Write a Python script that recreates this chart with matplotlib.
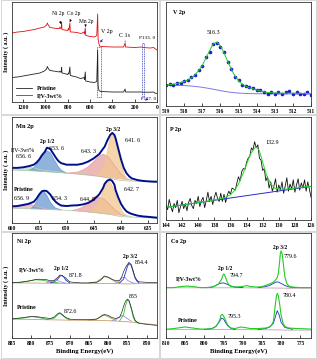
import matplotlib.pyplot as plt
from matplotlib.patches import Rectangle

# ----------------------------- survey spectra ------------------------------ #
surveyE = [1300, 1250, 1200, 1150, 1100, 1050, 1010, 990, 983, 975, 960, 930, 900, 875, 870, 866,
           858, 855, 852, 830, 800, 795, 790, 781, 777, 760, 720, 700, 680, 654, 650, 643, 639,
           600, 560, 540, 532, 528, 520, 515, 500, 400, 300, 286, 282, 200, 135, 130, 60, 30, 20, 0]
surveyPV = [0.69, 0.70, 0.705, 0.715, 0.725, 0.74, 0.75, 0.77, 0.79, 0.77, 0.745, 0.74, 0.735, 0.735,
            0.75, 0.735, 0.74, 0.80, 0.725, 0.72, 0.715, 0.735, 0.72, 0.79, 0.70, 0.70, 0.695, 0.69,
            0.685, 0.70, 0.68, 0.74, 0.665, 0.655, 0.65, 0.665, 0.88, 0.63, 0.58, 0.56, 0.555, 0.55,
            0.55, 0.59, 0.55, 0.545, 0.55, 0.545, 0.54, 0.545, 0.535, 0.52]
surveyPristine = [0.245, 0.25, 0.26, 0.27, 0.28, 0.29, 0.31, 0.33, 0.355, 0.335, 0.315, 0.31, 0.305,
                  0.30, 0.31, 0.30, 0.30, 0.345, 0.29, 0.285, 0.275, 0.29, 0.28, 0.35, 0.265, 0.26,
                  0.25, 0.24, 0.235, 0.245, 0.225, 0.30, 0.21, 0.20, 0.195, 0.205, 0.52, 0.16, 0.115,
                  0.11, 0.105, 0.10, 0.10, 0.13, 0.10, 0.10, 0.10, 0.098, 0.098, 0.10, 0.09, 0.085]

# --------------------------------- V 2p ------------------------------------ #
vE = [519.0, 518.8, 518.6, 518.4, 518.2, 518.0, 517.8, 517.6, 517.4, 517.2, 517.0, 516.8, 516.6,
      516.4, 516.2, 516.0, 515.8, 515.6, 515.4, 515.2, 515.0, 514.8, 514.6, 514.4, 514.2, 514.0,
      513.8, 513.6, 513.4, 513.2, 513.0, 512.8, 512.6, 512.4, 512.2, 512.0, 511.8, 511.6, 511.4,
      511.2, 511.0]
vData = [0.20, 0.21, 0.20, 0.22, 0.22, 0.24, 0.25, 0.28, 0.30, 0.35, 0.38, 0.47, 0.52, 0.60, 0.61,
         0.57, 0.52, 0.42, 0.36, 0.28, 0.25, 0.20, 0.19, 0.18, 0.17, 0.15, 0.15, 0.13, 0.12, 0.13,
         0.12, 0.13, 0.12, 0.13, 0.14, 0.12, 0.13, 0.12, 0.12, 0.13, 0.11]
vFit = [0.20, 0.205, 0.21, 0.215, 0.225, 0.235, 0.25, 0.27, 0.30, 0.34, 0.39, 0.46, 0.53, 0.595,
        0.615, 0.58, 0.51, 0.43, 0.355, 0.29, 0.245, 0.21, 0.19, 0.175, 0.165, 0.155, 0.145, 0.137,
        0.13, 0.127, 0.125, 0.124, 0.123, 0.123, 0.123, 0.123, 0.122, 0.122, 0.121, 0.12, 0.12]
vBgE = [519, 518, 517.5, 517, 516.5, 516, 515.5, 515, 514.5, 514, 511]
vBg = [0.20, 0.197, 0.19, 0.18, 0.165, 0.148, 0.133, 0.124, 0.12, 0.118, 0.115]

# --------------------------------- Mn 2p ----------------------------------- #
mnE = [660, 659, 658, 657, 656, 655.5, 655, 654.5, 654, 653.6, 653, 652.5, 652, 651.5, 651, 650,
       649, 648, 647, 646, 645, 644, 643.3, 643, 642.5, 642, 641.6, 641.2, 641, 640.5, 640, 639.5,
       639, 638.5, 638, 637, 636, 635, 634, 633.4]
mnPV = [0.52, 0.52, 0.525, 0.535, 0.55, 0.57, 0.60, 0.64, 0.67, 0.71, 0.70, 0.66, 0.62, 0.585,
        0.565, 0.55, 0.55, 0.55, 0.56, 0.58, 0.61, 0.65, 0.70, 0.72, 0.78, 0.83, 0.85, 0.83, 0.80,
        0.70, 0.60, 0.52, 0.47, 0.44, 0.42, 0.405, 0.397, 0.393, 0.39, 0.39]
mnPVBgE = [660, 655, 650, 645, 642, 640, 633.4]
mnPVBg = [0.50, 0.49, 0.47, 0.45, 0.42, 0.40, 0.385]
mnPVSatE = [660, 658, 657, 656.6, 656, 655, 654, 652, 650]
mnPVSat = [0.50, 0.51, 0.52, 0.525, 0.52, 0.505, 0.495, 0.485, 0.47]
mnPV12E = [657, 656, 655, 654.5, 654, 653.6, 653, 652.5, 652, 651.5, 651, 650]
mnPV12 = [0.493, 0.52, 0.585, 0.635, 0.67, 0.68, 0.665, 0.62, 0.575, 0.53, 0.50, 0.47]
mnPVPinkE = [650, 648, 647, 646, 645, 644, 643.3, 642.5, 642, 641, 640, 639, 638]
mnPVPink = [0.47, 0.48, 0.50, 0.53, 0.58, 0.63, 0.65, 0.63, 0.60, 0.53, 0.46, 0.42, 0.40]
mnPV32E = [645, 644, 643, 642.5, 642, 641.6, 641.2, 641, 640.5, 640, 639.5, 639, 638]
mnPV32 = [0.45, 0.47, 0.55, 0.68, 0.80, 0.84, 0.80, 0.76, 0.65, 0.55, 0.47, 0.42, 0.40]

mnPristine = [0.157, 0.16, 0.17, 0.18, 0.20, 0.23, 0.27, 0.30, 0.305, 0.30, 0.27, 0.23, 0.20,
              0.18, 0.165, 0.16, 0.165, 0.167, 0.175, 0.19, 0.22, 0.27, 0.33, 0.37, 0.40, 0.41,
              0.395, 0.36, 0.31, 0.24, 0.18, 0.14, 0.11, 0.095, 0.085, 0.07, 0.062, 0.058, 0.053,
              0.05]
mnPrBgE = [660, 655, 650, 645, 642, 640, 633.4]
mnPrBg = [0.14, 0.13, 0.12, 0.10, 0.08, 0.06, 0.045]
mnPrSatE = [660, 658, 657, 656.5, 656, 655, 654, 653, 651]
mnPrSat = [0.14, 0.16, 0.175, 0.175, 0.165, 0.15, 0.135, 0.128, 0.124]
mnPr12E = [656.5, 656, 655.5, 655, 654.6, 654.3, 654, 653.5, 653, 652.5, 652, 651]
mnPr12 = [0.135, 0.16, 0.20, 0.25, 0.29, 0.30, 0.29, 0.25, 0.20, 0.165, 0.14, 0.125]
mnPrPinkE = [649, 648, 647, 646, 645, 644.8, 644, 643, 642, 641, 640, 639]
mnPrPink = [0.118, 0.13, 0.15, 0.19, 0.24, 0.25, 0.245, 0.22, 0.17, 0.12, 0.08, 0.065]
mnPr32E = [646, 645, 644, 643.5, 643, 642.7, 642.3, 642, 641.5, 641, 640.5, 640, 639.5, 639, 638]
mnPr32 = [0.10, 0.13, 0.20, 0.28, 0.36, 0.395, 0.40, 0.385, 0.34, 0.27, 0.20, 0.13, 0.09, 0.07,
          0.06]

# ---------------------------------- P 2p ----------------------------------- #
pE = [144.0 - 0.2 * i for i in range(91)]
pData = [0.15, 0.10, 0.20, 0.13, 0.08, 0.16, 0.12, 0.19, 0.07, 0.13, 0.18, 0.11, 0.16, 0.09, 0.17,
         0.21, 0.14, 0.11, 0.19, 0.16, 0.23, 0.13, 0.19, 0.22, 0.12, 0.19, 0.27, 0.18, 0.23, 0.15,
         0.22, 0.27, 0.21, 0.18, 0.26, 0.18, 0.25, 0.17, 0.24, 0.28, 0.25, 0.31, 0.30, 0.29, 0.36,
         0.42, 0.38, 0.47, 0.50, 0.49, 0.56, 0.60, 0.62, 0.70, 0.68, 0.76, 0.70, 0.73, 0.60, 0.58,
         0.48, 0.50, 0.38, 0.42, 0.31, 0.37, 0.28, 0.33, 0.40, 0.27, 0.34, 0.29, 0.37, 0.26, 0.33,
         0.41, 0.28, 0.35, 0.30, 0.39, 0.27, 0.34, 0.40, 0.29, 0.36, 0.31, 0.39, 0.28, 0.37, 0.30,
         0.22]
pFitE = [144, 142, 140, 138, 137, 136.5, 136, 135.5, 135, 134.5, 134, 133.5, 133, 132.7, 132.4,
         132, 131.5, 131, 130.5, 130, 129, 128, 127, 126]
pFit = [0.123, 0.145, 0.17, 0.195, 0.21, 0.225, 0.245, 0.285, 0.35, 0.44, 0.54, 0.64, 0.70, 0.705,
        0.67, 0.56, 0.43, 0.35, 0.31, 0.30, 0.30, 0.31, 0.32, 0.327]
pBgE = [144, 126]
pBg = [0.123, 0.327]

# ---------------------------------- Ni 2p ---------------------------------- #
niE = [885, 883, 881, 879, 878, 876, 875, 874, 873, 872.5, 872, 871, 870, 869, 867, 865, 863, 862,
       861, 860, 859, 858, 857, 856.5, 856, 855.5, 855, 854.6, 854, 853.5, 853, 852.5, 852, 850,
       847.3]
niPV = [0.527, 0.53, 0.54, 0.555, 0.56, 0.555, 0.545, 0.55, 0.58, 0.60, 0.595, 0.57, 0.535, 0.53,
        0.525, 0.525, 0.53, 0.55, 0.59, 0.58, 0.56, 0.545, 0.55, 0.58, 0.63, 0.67, 0.70, 0.72, 0.70,
        0.64, 0.58, 0.55, 0.535, 0.53, 0.53]
niPristine = [0.184, 0.19, 0.20, 0.205, 0.20, 0.19, 0.185, 0.20, 0.235, 0.24, 0.225, 0.195, 0.18,
              0.175, 0.175, 0.175, 0.18, 0.20, 0.225, 0.215, 0.195, 0.185, 0.20, 0.24, 0.30, 0.35,
              0.37, 0.36, 0.29, 0.22, 0.17, 0.15, 0.14, 0.13, 0.12]
niPVBgE = [885, 870, 860, 855, 850, 847.3]
niPVBg = [0.525, 0.52, 0.52, 0.515, 0.52, 0.52]
niPVSat1E = [885, 882, 879, 877, 875, 873]
niPVSat1 = [0.525, 0.535, 0.555, 0.55, 0.535, 0.525]
niPV12E = [875, 874, 873, 872.5, 872, 871.5, 871, 870]
niPV12 = [0.525, 0.535, 0.565, 0.59, 0.595, 0.58, 0.55, 0.525]
niPVSh1E = [876, 875, 874, 873.5, 873, 872, 871]
niPVSh1 = [0.525, 0.535, 0.545, 0.548, 0.545, 0.53, 0.522]
niPVSat2E = [865, 863, 862, 861, 860, 859, 858, 857]
niPVSat2 = [0.525, 0.535, 0.56, 0.585, 0.575, 0.555, 0.535, 0.525]
niPVSh2E = [858, 857, 856.5, 856, 855.5, 855, 854, 853]
niPVSh2 = [0.525, 0.545, 0.57, 0.58, 0.575, 0.55, 0.53, 0.52]
niPV32E = [857, 856, 855.5, 855, 854.6, 854, 853.5, 853, 852.5, 852]
niPV32 = [0.525, 0.56, 0.62, 0.68, 0.71, 0.69, 0.63, 0.57, 0.54, 0.525]
niPrBgE = [885, 870, 860, 855, 850, 847.3]
niPrBg = [0.18, 0.17, 0.165, 0.155, 0.135, 0.125]
niPrSat1E = [885, 882, 880, 878, 876]
niPrSat1 = [0.18, 0.19, 0.205, 0.195, 0.178]
niPr12E = [876, 874, 873, 872.6, 872, 871, 870]
niPr12 = [0.175, 0.19, 0.225, 0.235, 0.22, 0.19, 0.172]
niPrSat2E = [865, 863, 862, 861.5, 860.5, 859, 858]
niPrSat2 = [0.17, 0.18, 0.205, 0.22, 0.21, 0.185, 0.168]
niPrShE = [859, 858, 857, 856.5, 856, 855, 854]
niPrSh = [0.165, 0.175, 0.20, 0.215, 0.21, 0.185, 0.16]
niPr32E = [857, 856, 855.5, 855, 854.6, 854, 853.5, 853, 852]
niPr32 = [0.165, 0.22, 0.31, 0.36, 0.35, 0.28, 0.20, 0.16, 0.145]

# ---------------------------------- Co 2p ---------------------------------- #
coPVE = [810, 808, 806, 804.5, 803, 801, 799, 798, 797, 796.3, 795.5, 795.2, 794.9, 794.5, 794,
         793.5, 793, 792, 790, 789, 788, 786, 785, 784, 783, 782, 781.5, 781, 780.7, 780.4, 780.2,
         780.0, 779.7, 779.4, 779.0, 778.5, 778, 777, 775, 772.2]
coPV = [0.479, 0.48, 0.49, 0.495, 0.49, 0.48, 0.48, 0.485, 0.50, 0.515, 0.56, 0.595, 0.61, 0.58,
        0.53, 0.50, 0.49, 0.485, 0.49, 0.50, 0.49, 0.485, 0.49, 0.50, 0.515, 0.53, 0.55, 0.575, 0.62,
        0.72, 0.80, 0.83, 0.80, 0.70, 0.58, 0.52, 0.495, 0.485, 0.48, 0.48]
coPVBlue1E = [800, 798, 797, 796, 795, 794, 793, 792, 790]
coPVBlue1 = [0.48, 0.485, 0.50, 0.52, 0.525, 0.51, 0.495, 0.485, 0.48]
coPVBlue2E = [786, 784, 783, 782, 781.5, 781, 780.5, 780, 779, 778, 777, 775]
coPVBlue2 = [0.48, 0.49, 0.50, 0.52, 0.53, 0.535, 0.53, 0.52, 0.50, 0.487, 0.482, 0.48]
coPVBgE = [810, 800, 790, 782, 778, 772.2]
coPVBg = [0.478, 0.478, 0.478, 0.476, 0.474, 0.474]

coPrE = [810, 808, 806, 805, 803, 801, 799, 798, 797, 796.5, 796, 795.7, 795.3, 795, 794.5, 794,
         793.5, 793, 792, 790.5, 789.5, 788, 786, 784, 783, 782.5, 782, 781.8, 781.5, 781.2, 781.0,
         780.7, 780.4, 780, 779.5, 779, 778, 776, 774, 772.2]
coPristine = [0.083, 0.09, 0.10, 0.105, 0.095, 0.085, 0.085, 0.09, 0.11, 0.135, 0.17, 0.215,
              0.225, 0.21, 0.17, 0.13, 0.105, 0.095, 0.09, 0.105, 0.10, 0.09, 0.09, 0.095, 0.105,
              0.12, 0.16, 0.22, 0.32, 0.40, 0.425, 0.40, 0.33, 0.22, 0.14, 0.11, 0.095, 0.09, 0.088,
              0.085]
coPrBlue1E = [800, 798, 797, 796, 795.5, 795, 794, 793, 792]
coPrBlue1 = [0.082, 0.09, 0.11, 0.16, 0.19, 0.18, 0.12, 0.09, 0.082]
coPrBlue2E = [786, 784, 783, 782, 781.5, 781, 780.5, 780, 779, 777]
coPrBlue2 = [0.082, 0.09, 0.105, 0.14, 0.20, 0.26, 0.22, 0.15, 0.10, 0.083]
coPrBgE = [810, 800, 790, 782, 778, 772.2]
coPrBg = [0.08, 0.08, 0.08, 0.078, 0.075, 0.075]

# ------------------------------- plotting ---------------------------------- #
plt.rcParams['font.family'] = ['Liberation Serif', 'DejaVu Serif']
fig = plt.figure(figsize=(3.17, 3.59), dpi=100)

W, H = 317.0, 359.0
def makeAxes(left, top, right, bottom):
    ax = fig.add_axes([left / W, 1 - bottom / H, (right - left) / W, (bottom - top) / H])
    ax.set_ylim(0, 1)
    ax.set_yticks([])
    ax.tick_params(axis='x', direction='in', length=2, width=0.5, labelsize=4, pad=2)
    for sp in ax.spines.values():
        sp.set_linewidth(0.6)
        sp.set_color('#333333')
    return ax

def boldTicks(ax):
    for lab in ax.get_xticklabels():
        lab.set_fontweight('bold')

small = 4.3

# light grey frames round each sub-figure
for (l, t, r, b) in [(1, 0, 159, 114), (160, 0, 316, 114), (1, 115, 159, 231), (160, 115, 316, 231),
                     (1, 232, 159, 358), (160, 232, 316, 358)]:
    fig.patches.append(Rectangle((l / W, 1 - b / H), (r - l) / W, (b - t) / H, fill=False,
                                 ec='#c8c8c8', lw=0.5, transform=fig.transFigure))

# survey
ax1 = makeAxes(12, 2, 157, 102)
ax1.plot(surveyE, surveyPristine, color='#222222', lw=0.6, label='Pristine')
ax1.plot(surveyE, surveyPV, color='#e01010', lw=0.6, label='P,V-3wt%')
ax1.set_xlim(1300, 0)
ax1.set_xticks([1200, 1000, 800, 600, 400, 200, 0])
boldTicks(ax1)
ax1.add_patch(Rectangle((506, 0.05), 28, 0.5, fill=False, ls=(0, (1.5, 1)), lw=0.5, ec='#3030c0'))
ax1.add_patch(Rectangle((116, 0.06), 18, 0.53, fill=False, ls=(0, (1.5, 1)), lw=0.5, ec='#3030c0'))
ax1.annotate('Ni 2p', xy=(862, 0.78), xytext=(888, 0.87), fontsize=small - 0.3, ha='center',
             arrowprops=dict(arrowstyle='-|>', lw=0.4, color='k', mutation_scale=3))
ax1.annotate('Co 2p', xy=(782, 0.80), xytext=(750, 0.87), fontsize=small - 0.3, ha='center',
             arrowprops=dict(arrowstyle='-|>', lw=0.4, color='k', mutation_scale=3))
ax1.annotate('Mn 2p', xy=(643, 0.75), xytext=(636, 0.79), fontsize=small - 0.3, ha='center',
             arrowprops=dict(arrowstyle='-|>', lw=0.4, color='k', mutation_scale=3))
ax1.annotate('V 2p', xy=(520, 0.57), xytext=(448, 0.69), fontsize=small, ha='center',
             arrowprops=dict(arrowstyle='-|>', lw=0.4, color='#2020b0', mutation_scale=3))
ax1.annotate('C 1s', xy=(286, 0.60), xytext=(287, 0.65), fontsize=small, ha='center',
             arrowprops=dict(arrowstyle='-', lw=0.4, color='k'))
ax1.text(89, 0.63, 'P133. 0', fontsize=small - 0.5, ha='center')
ax1.annotate('P127. 0', xy=(125, 0.0), xytext=(80, 0.025), fontsize=small - 0.8, ha='center',
             arrowprops=dict(arrowstyle='-|>', lw=0.4, color='#2020b0', mutation_scale=3))
leg = ax1.legend(loc='lower left', fontsize=small, frameon=False, handlelength=2.6,
                 bbox_to_anchor=(0.0, 0.0), borderaxespad=0.3, labelspacing=0.2)
for t in leg.get_texts():
    t.set_fontweight('bold')
ax1.set_ylabel('Intensity ( a.u. )', fontsize=small, fontweight='bold', labelpad=2)

# V 2p
ax2 = makeAxes(166, 2, 311, 106)
ax2.plot(vBgE, vBg, color='#7b7be0', lw=0.7)
ax2.plot(vE, vData, ls='none', marker='o', ms=1.6, color='#1c1cd0')
ax2.plot(vE, vFit, color='#22cc22', lw=0.7)
ax2.set_xlim(519, 511)
ax2.set_xticks(range(519, 510, -1))
boldTicks(ax2)
ax2.text(518.6, 0.88, 'V 2p', fontsize=small, fontweight='bold')
ax2.text(516.4, 0.69, '516.3', fontsize=small, ha='center')

# Mn 2p
ax3 = makeAxes(12, 117, 157, 223)
for bgE, bg, comps in [
        (mnPVBgE, mnPVBg, [(mnPVSatE, mnPVSat, '#c4d8c0'), (mnPV12E, mnPV12, '#6a9ad0'),
                           (mnPVPinkE, mnPVPink, '#e8a0a0'), (mnPV32E, mnPV32, '#f2c890')]),
        (mnPrBgE, mnPrBg, [(mnPrSatE, mnPrSat, '#e8b0b0'), (mnPr12E, mnPr12, '#6a9ad0'),
                           (mnPrPinkE, mnPrPink, '#e8a0a0'), (mnPr32E, mnPr32, '#f2c890')])]:
    for cE, c, col in comps:
        ax3.fill(cE, c, color=col, alpha=0.75, lw=0)
        ax3.plot(cE, c, color=col, lw=0.5)
    ax3.plot(bgE, bg, color='#a8c8a8', lw=0.5)
ax3.plot(mnE, mnPV, color='#00108a', lw=1.4)
ax3.plot(mnE, mnPristine, color='#00108a', lw=1.4)
ax3.set_xlim(660, 633.4)
ax3.set_xticks([660, 655, 650, 645, 640, 635])
boldTicks(ax3)
ax3.text(659.3, 0.9, 'Mn 2p', fontsize=small + 0.3, fontweight='bold')
ax3.text(653.6, 0.75, '2p 1/2', fontsize=small - 0.3, ha='center', fontweight='bold')
ax3.text(651.8, 0.69, '653. 6', fontsize=small, ha='center')
ax3.text(658.0, 0.675, 'P,V-3wt%', fontsize=small, ha='center')
ax3.text(657.9, 0.615, '656. 6', fontsize=small, ha='center')
ax3.text(646.0, 0.665, '643. 3', fontsize=small, ha='center')
ax3.text(641.4, 0.865, '2p 3/2', fontsize=small - 0.3, ha='center', fontweight='bold')
ax3.text(637.8, 0.76, '641. 6', fontsize=small, ha='center')
ax3.text(657.8, 0.30, 'Pristine', fontsize=small, ha='center', fontweight='bold')
ax3.text(658.2, 0.22, '656. 9', fontsize=small, ha='center')
ax3.text(651.3, 0.22, '654. 3', fontsize=small, ha='center')
ax3.text(646.2, 0.21, '644. 8', fontsize=small, ha='center')
ax3.text(638.1, 0.30, '642. 7', fontsize=small, ha='center')
ax3.set_ylabel('Intensity ( a.u. )', fontsize=small, fontweight='bold', labelpad=2)

# P 2p
ax4 = makeAxes(166, 117, 311, 220)
ax4.plot(pE, pData, color='#111111', lw=0.6)
ax4.plot(pBgE, pBg, color='#2a2ad0', lw=0.7)
ax4.plot(pFitE, pFit, color='#22dd22', lw=0.7)
ax4.set_xlim(144, 126)
ax4.set_xticks(range(144, 125, -2))
boldTicks(ax4)
ax4.text(143.5, 0.86, 'P 2p', fontsize=small, fontweight='bold')
ax4.text(130.8, 0.735, '132.9', fontsize=small, ha='center')

# Ni 2p
ax5 = makeAxes(12, 233, 157, 338)
for bgE, bg, comps in [
        (niPVBgE, niPVBg, [(niPVSat1E, niPVSat1, '#30c030'), (niPV12E, niPV12, '#2030d0'),
                           (niPVSh1E, niPVSh1, '#a090e0'), (niPVSat2E, niPVSat2, '#a0a040'),
                           (niPVSh2E, niPVSh2, '#a090e0'), (niPV32E, niPV32, '#2030d0')]),
        (niPrBgE, niPrBg, [(niPrSat1E, niPrSat1, '#30c030'), (niPr12E, niPr12, '#30c030'),
                           (niPrSat2E, niPrSat2, '#a0a040'), (niPrShE, niPrSh, '#a090e0'),
                           (niPr32E, niPr32, '#30c030')])]:
    ax5.plot(bgE, bg, color='#c8a070', lw=0.6)
    for cE, c, col in comps:
        ax5.plot(cE, c, color=col, lw=0.6)
ax5.plot(niE, niPV, color='#2a2a2a', lw=0.5)
ax5.plot(niE, niPristine, color='#2a2a2a', lw=0.5)
ax5.set_xlim(885, 847.3)
ax5.set_xticks(range(885, 849, -5))
boldTicks(ax5)
ax5.text(883.8, 0.9, 'Ni 2p', fontsize=small, fontweight='bold')
ax5.text(879.8, 0.64, 'P,V-3wt%', fontsize=small, ha='center', fontweight='bold')
ax5.text(872.1, 0.65, '2p 1/2', fontsize=small - 0.3, ha='center', fontweight='bold')
ax5.text(868.6, 0.585, '871.8', fontsize=small, ha='center')
ax5.text(854.3, 0.76, '2p 3/2', fontsize=small - 0.3, ha='center', fontweight='bold')
ax5.text(851.3, 0.705, '854.4', fontsize=small, ha='center')
ax5.text(881.1, 0.275, 'Pristine', fontsize=small, ha='center', fontweight='bold')
ax5.text(869.9, 0.235, '872.6', fontsize=small, ha='center')
ax5.text(853.5, 0.385, '855', fontsize=small, ha='center')
ax5.set_ylabel('Intensity ( a.u. )', fontsize=small, fontweight='bold', labelpad=2)
ax5.set_xlabel('Binding Energy(eV)', fontsize=small + 0.5, fontweight='bold', labelpad=2)

# Co 2p
ax6 = makeAxes(166, 233, 311, 338)
for bgE, bg, b1E, b1, b2E, b2 in [(coPVBgE, coPVBg, coPVBlue1E, coPVBlue1, coPVBlue2E, coPVBlue2),
                                   (coPrBgE, coPrBg, coPrBlue1E, coPrBlue1, coPrBlue2E, coPrBlue2)]:
    ax6.plot(bgE, bg, color='#c0a0b0', lw=0.6)
    ax6.plot(b1E, b1, color='#2030c0', lw=0.6)
    ax6.plot(b2E, b2, color='#2030c0', lw=0.6)
ax6.plot(coPVE, coPV, color='#22cc22', lw=0.8)
ax6.plot(coPrE, coPristine, color='#22cc22', lw=0.8)
ax6.set_xlim(810, 772.2)
ax6.set_xticks(range(810, 774, -5))
boldTicks(ax6)
ax6.text(808.8, 0.9, 'Co 2p', fontsize=small, fontweight='bold')
ax6.text(794.7, 0.645, '2p 1/2', fontsize=small - 0.3, ha='center', fontweight='bold')
ax6.text(791.8, 0.585, '794.7', fontsize=small, ha='center')
ax6.text(780.2, 0.845, '2p 3/2', fontsize=small - 0.3, ha='center', fontweight='bold')
ax6.text(777.5, 0.76, '779.6', fontsize=small, ha='center')
ax6.text(804.1, 0.55, 'P,V-3wt%', fontsize=small, ha='center', fontweight='bold')
ax6.text(804.3, 0.15, 'Pristine', fontsize=small, ha='center', fontweight='bold')
ax6.text(792.1, 0.19, '795.3', fontsize=small, ha='center')
ax6.text(777.8, 0.395, '780.4', fontsize=small, ha='center')
ax6.set_xlabel('Binding Energy(eV)', fontsize=small + 0.5, fontweight='bold', labelpad=2)

fig.savefig('out.png', dpi=100)
